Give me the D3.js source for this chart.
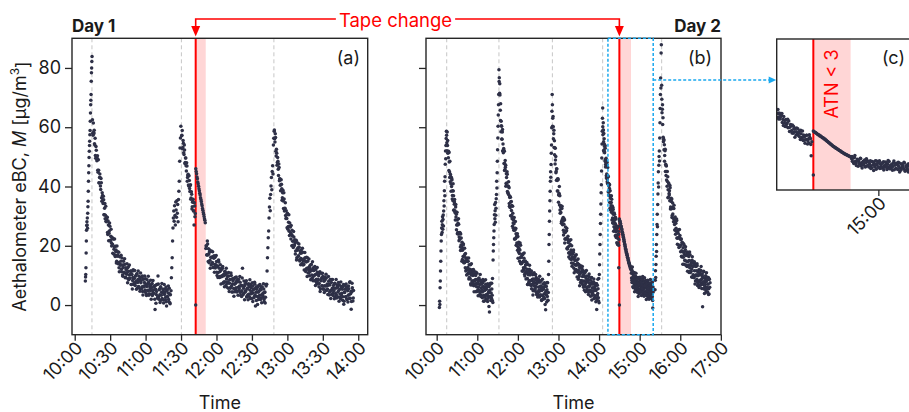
<!DOCTYPE html>
<html>
<head>
<meta charset="utf-8">
<script src="https://cdn.jsdelivr.net/npm/d3@7"></script>
<style>
html,body{margin:0;padding:0;background:#fff;}
svg{display:block;}
</style>
</head>
<body>
<svg id="chart" width="909" height="412"></svg>
<script>
// ---------------- data ----------------
const yTicks = [0, 20, 40, 60, 80];
const day1TickLabels = ["10:00","10:30","11:00","11:30","12:00","12:30","13:00","13:30","14:00"];
const day2TickLabels = ["10:00","11:00","12:00","13:00","14:00","15:00","16:00","17:00"];
const zoomTickLabels = ["15:00"];
const day1Range = ["09:57:42", "14:08:00"];
const day2Range = ["09:44:12", "17:00:12"];
const zoomWindow = ["14:13:06", "15:20:00"];
const day1Peaks = ["10:14:36", "11:30:18", "12:48:36"];
const day2Peaks = ["10:14:48", "11:32:00", "12:51:00", "14:05:18", "15:32:30"];
const day1Atn = ["11:42:24", "11:50:54"];
const day2Atn = ["14:30:00", "14:47:12"];
const tapeZeroTimes = ["11:42:24", "14:30:00"];
const tapeZeroValues = [0, 0];

// Day 1 (eBC, µg/m3)
const d1Rise1 = [8.1,9.5,10.3,12.6,17.6,21.6,25.2,26.8,28.1,27.0,29.4,25.9,31.0,33.2,35.0,38.4,41.8,44.6,47.0,49.8,51.9,53.8,55.3,57.5,58.9,62.0,64.8,67.6,69.1,71.0,75.5,78.4,80.0,82.2,83.9];
const d1Decay1 = [62.5,57.3,58.3,59.0,54.0,50.5,53.5,49.5,49.5,45.5,49.0,41.3,43.0,43.0,39.0,41.3,35.0,37.0,34.3,35.5,
30.5,34.3,30.3,28.3,29.0,29.6,23.8,27.0,24.2,27.7,21.7,23.2,21.0,22.9,20.5,22.4,17.2,19.7,16.9,19.8,
18.6,14.8,16.5,18.0,14.4,12.6,16.4,13.8,14.8,12.1,15.9,10.1,12.7,13.5,10.8,13.8,9.4,12.0,10.4,12.4,
8.9,12.9,10.1,9.0,10.3,11.5,6.9,10.3,8.3,11.9,6.9,9.0,7.4,9.8,8.0,10.5,5.7,8.6,6.3,9.7,
8.9,5.4,7.5,9.4,6.2,4.6,8.7,6.4,7.6,5.1,8.9,3.8,6.3,7.1,4.8,7.7,3.8,6.2,4.9,6.8,
3.7,7.3,4.8,3.9,5.2,6.3,-1.5,5.3,3.6,6.9,2.4,9.8,2.8,5.2,3.5,5.9,1.6,4.3,2.2,5.4,
4.7,1.7,3.6,5.4,2.6,1.1,4.9,2.9,4.1,1.9,5.7,0.8,3.5];
const d1Decay1B = [58.0,61.4,57.9,54.4,56.3,49.5,52.2,48.7,50.4,44.8,45.5,41.2,44.2,40.2,42.7,36.2,37.9,35.4,36.7,30.5,
32.7,29.1,33.3,28.1,29.6,24.5,28.4,21.7,25.0,26.6,21.9,25.6,19.9,22.6,17.5,22.3,18.8,22.3,16.4,18.1,
14.2,19.9,16.9,13.9,17.8,11.2,16.3,13.4,16.8,11.2,13.5,9.7,14.8,11.1,15.6,9.2,12.6,10.9,13.9,7.5,
11.3,8.5,13.5,9.1,11.4,6.9,11.4,5.4,9.3,11.6,7.5,11.7,6.6,9.9,5.3,10.6,7.6,11.5,6.1,8.2,
4.7,10.8,8.2,5.6,9.8,3.4,8.8,6.2,9.8,4.4,6.9,3.2,8.5,5.0,9.7,3.3,6.9,5.3,8.4,2.0,
5.9,3.2,8.3,4.0,6.4,2.0,6.6,0.6,4.6,6.9,2.8,7.1,2.0,5.3,0.9,6.2,3.3,7.3,1.9,4.1,
0.7,6.9,4.3,1.8,6.1,-0.3,5.2,2.7,6.4,1.1,3.8,0.4];
const d1Rise2 = [4.8,9.2,12.6,16.0,21.6,26.0,29.4,31.7,28.3,33.5,30.2,27.0,34.8,32.1,29.6,35.2,31.0,33.9,28.1,35.6,38.4,41.8,48.5,53.0,56.4,60.3];
const d1Decay2a = [57.1,58.9,53.2,54.6,50.8,52.3,48.1,49.6,45.2,46.9,43.0,44.1,40.2,42.0,38.3,40.6,36.1,37.4,33.2,35.0,31.7,27.0,33.4,30.9];
const d1Decay2aB = [57.3,52.7,55.5,51.4,54.0,47.8,49.6,47.0,48.0,41.8,43.7,40.5,43.6,39.3,40.3,35.7,38.2,32.4,34.7,35.7,31.8,34.5,29.8];
const d1Band = [46.0,45.1,44.3,43.2,42.6,41.5,40.9,40.1,39.2,38.6,37.7,37.1,36.2,35.6,34.9,34.1,33.5,32.6,32.0,31.2,30.6,29.9,29.1,28.6,27.8];
const d1Decay2b = [19.1,19.9,17.0,20.6,14.7,17.2,17.9,15.1,18.1,13.5,16.1,14.4,16.3,12.7,16.6,13.7,12.5,13.6,14.7,10.0,
13.2,11.0,14.5,9.3,11.3,9.5,11.8,9.9,12.3,7.4,10.3,7.9,11.2,10.3,6.8,8.8,10.7,7.4,5.7,9.8,
7.4,8.6,6.0,10.0,4.4,7.1,8.1,5.6,8.8,4.5,7.3,5.8,8.0,4.6,8.7,6.0,5.0,6.4,7.7,3.2,
6.7,4.8,12.4,3.5,5.7,4.1,6.6,4.8,7.4,2.7,5.7,3.5,6.9,6.2,2.8,5.0,6.9,3.8,2.2,6.4,
4.1,5.4,2.9,7.0,-0.3,4.3,5.3,2.9,6.1,1.9,4.7,3.3,5.4,2.1,6.2,3.6,2.6,4.1,5.4,1.0,
4.4,2.6,6.4];
const d1Decay2bB = [20.0,16.9,21.6,16.9,19.0,14.3,18.6,12.4,16.1,18.2,13.9,18.0,12.7,15.8,11.1,16.1,12.9,16.7,11.1,13.0,
9.3,15.2,12.4,9.6,13.6,7.1,12.3,9.6,13.0,7.5,9.9,6.2,11.4,7.8,12.4,6.1,9.6,7.9,11.0,4.6,
8.5,5.7,10.8,6.4,8.8,4.4,9.0,3.0,7.0,9.3,5.2,9.5,4.4,7.8,3.3,8.6,5.6,9.6,4.2,6.4,
2.9,9.1,6.5,3.9,8.1,1.8,7.2,4.6,8.2,2.9,5.4,1.8,7.2,3.7,8.5,2.2,5.9,4.3,7.5,1.2,
5.2,2.5,7.7,3.4,5.9,1.5,6.2,0.2,4.3,6.6,2.6,6.9,1.9,5.2,0.8,6.1,3.2,7.2,1.9,4.2,
0.7,6.9];
const d1Rise3 = [7.0,11.5,16.0,19.3,22.7,25.0,29.4,33.1,36.0,31.8,37.3,40.2,43.0,38.9,45.1,47.0,44.2,54.0,56.3,58.6];
const d1Decay3 = [59.1,55.0,56.5,50.3,51.2,48.1,48.5,43.7,46.4,42.5,40.4,40.6,40.8,35.4,37.9,35.1,37.9,31.7,32.7,30.2,
31.8,29.2,31.0,25.6,27.9,24.9,27.7,26.3,22.3,23.8,25.2,21.5,19.4,23.0,20.3,21.1,18.2,21.9,16.0,18.5,
19.3,16.5,19.5,14.9,17.5,15.7,17.6,14.0,17.8,14.9,13.7,14.9,16.0,11.3,14.5,12.4,16.0,10.8,12.7,11.0,
13.3,11.4,13.7,8.9,11.8,9.3,12.6,11.7,8.2,10.2,12.0,8.7,7.1,11.1,8.7,9.9,7.3,11.2,5.5,8.2,
9.1,6.5,9.6,5.3,8.0,6.5,8.5,5.1,9.1,6.4,5.3,6.7,8.0,3.4,6.8,4.9,8.6,3.6,5.7,4.1,
6.6,4.8,7.3,2.6,5.7,3.4,6.8,6.1,2.7,4.9,6.8,3.7,2.1,6.3,4.0,5.3,2.8,6.9,1.3,4.2,
5.3,2.8,6.1,1.9,4.8,3.3,5.5,2.2,7.9,3.8,-1.4,4.4,5.8,1.4,4.9];
const d1Decay3B = [56.1,57.8,51.9,52.6,47.2,49.8,45.8,47.6,41.9,42.6,38.6,42.3,39.2,36.2,38.7,32.6,35.8,32.6,34.5,29.2,
30.4,26.1,30.7,26.5,30.5,23.5,26.5,24.3,26.8,20.0,23.4,20.2,24.8,20.0,22.0,17.2,21.5,15.2,18.9,20.9,
16.6,20.6,15.3,18.3,13.6,18.6,15.4,19.2,13.5,15.5,11.8,17.7,14.9,12.1,16.1,9.6,14.8,12.0,15.5,9.9,
12.3,8.5,13.7,10.1,14.6,8.2,11.7,10.0,13.0,6.6,10.4,7.6,12.7,8.3,10.6,6.2,10.7,4.6,8.5,10.7,
6.5,10.7,5.5,8.8,4.2,9.5,6.4,10.4,4.9,7.1,3.6,9.6,7.0,4.4,8.6,2.2,7.6,5.0,8.6,3.2,
5.7,2.1,7.4,3.9,8.6,2.4,6.0,4.4,7.6,1.3,5.3,2.6,7.8,3.5,6.0,1.6,6.3,0.3,4.4,6.8,
2.8,7.1,2.1,5.5,1.0,6.4,3.5,7.6,2.3,4.6,1.2,7.4,4.9,2.4];
const day1Segments = [d1Rise1, d1Decay1, d1Decay1B, d1Rise2, d1Decay2a, d1Decay2aB, d1Band, d1Decay2b, d1Decay2bB, d1Rise3, d1Decay3, d1Decay3B];
const day1Starts = ["10:09:00","10:15:00","10:15:15","11:21:30","11:30:30","11:30:45","11:42:30","11:51:00","11:51:15","12:42:30","12:49:00","12:49:15"];
const day1Steps = [10, 30, 30, 20, 30, 30, 20, 30, 30, 20, 30, 30];

// Day 2
const d2Rise1 = [-0.8,1.3,0.2,5.8,8.1,11.5,14.8,18.2,21.6,23.8,26.0,28.3,24.5,27.1,29.8,25.6,28.9,30.4,26.7,31.7,35.2,33.4,38.6,41.8,36.9,43.3,47.5,52.0,49.4,53.8,56.2,58.6,57.3];
const d2Decay1 = [54.8,58.4,53.8,51.2,51.5,51.9,45.4,48.3,44.9,48.5,41.6,43.4,40.9,43.1,40.0,42.2,35.8,38.6,35.2,38.5,
36.9,32.1,34.0,35.6,31.2,28.7,33.1,29.7,30.6,27.0,31.3,24.1,27.0,27.6,24.0,27.3,21.7,24.4,22.2,24.2,
19.6,24.0,20.3,18.7,20.0,21.2,15.4,19.1,16.4,20.6,14.3,16.5,14.3,17.1,14.6,17.4,11.5,14.9,11.9,15.8,
14.7,10.4,12.7,14.8,10.9,8.8,13.6,10.7,12.1,8.9,13.6,6.8,10.1,11.2,8.1,11.9,6.8,10.0,8.2,10.6,
6.5,11.4,8.1,6.8,8.5,10.0,4.5,8.6,6.2,10.7,4.6,7.1,5.2,8.2,6.0,9.0,3.4,6.9,4.2,8.3,
7.4,3.3,5.8,8.1,4.4,2.5,7.5,4.7,6.3,3.3,8.1,1.4,4.9,6.1,3.1,7.0,2.0,5.3,3.6,6.2,
2.1,7.2,4.0,2.9,4.6,6.3,-2.3,5.1,2.9,7.4,1.5,4.1,2.3,5.4,3.3,9.0,0.9];
const d2Decay1B = [52.1,55.5,49.7,51.5,43.0,44.1,38.4,42.6,37.0,40.9,32.0,34.8,31.7,33.9,25.4,28.7,24.5,29.1,23.0,24.5,
18.4,22.6,14.8,18.5,20.3,14.9,19.2,12.6,15.8,10.1,15.8,11.8,15.9,9.3,11.5,7.2,13.9,10.6,7.5,12.0,
4.5,10.4,7.2,11.1,4.7,7.5,3.1,9.1,4.9,10.3,2.9,7.0,5.1,8.6,1.3,5.8,2.6,8.5,3.5,6.2,
1.2,6.5,-0.5,4.2,7.0,2.3,7.4,1.5];
const d2Rise2 = [15.2,18.2,20.4,22.7,25.0,27.2,30.5,33.9,29.1,31.8,27.9,34.6,30.3,32.7,35.9,37.3,41.8,39.5,44.6,48.5,52.4,56.4,60.3,64.1,67.6,71.0];
const d2Decay2 = [79.4,76.7,71.5,70.9,65.7,67.9,58.5,60.5,60.3,55.9,58.4,52.1,54.3,51.4,52.8,47.8,51.9,47.8,45.7,46.5,
47.2,41.0,44.3,41.2,45.0,38.3,40.2,37.6,40.1,37.2,39.6,33.3,36.3,32.9,36.4,34.8,30.1,31.9,33.6,29.1,
26.6,31.0,27.7,28.7,25.2,29.5,22.3,25.2,25.9,22.4,25.8,20.2,23.1,20.9,23.0,18.5,23.1,19.5,17.9,19.2,
20.5,14.8,18.6,16.0,20.2,13.9,16.2,14.0,16.9,14.4,17.2,11.4,14.8,11.9,15.8,14.7,10.4,12.7,14.9,10.9,
8.8,13.7,10.8,12.1,9.0,13.7,6.9,10.2,11.3,8.2,12.1,6.9,10.1,8.3,10.8,6.6,11.5,8.3,7.0,8.7,
10.2,4.8,8.8,6.5,10.9,4.9,7.4,5.4,8.5,6.3,9.3,3.6,7.2,4.5,8.6,7.7,3.6,6.1,8.4,4.6,
2.7,7.7,4.9,6.4,3.4,8.2,1.5,4.9,6.1,3.1,7.1,2.0,5.3,3.7,6.2,2.2,7.2,4.1,-1.6,4.7,
6.3,1.0,5.2,2.9,7.5,1.6,4.2];
const d2Decay2B = [75.4,74.7,62.3,62.0,56.0,59.2,51.9,52.3,45.4,48.8,40.1,43.0,44.1,38.0,41.6,34.3,36.7,30.1,34.9,30.0,
33.3,25.9,27.4,22.3,28.2,24.1,20.2,24.1,15.8,21.2,17.4,20.9,14.0,16.3,11.5,17.1,12.6,17.6,9.8,13.5,
11.3,14.4,6.9,11.1,7.7,13.4,8.2,10.7,5.5,10.5,3.4,7.8,10.3,5.5,10.3,4.3,8.0,2.7,8.8,5.2,
9.7,3.4,5.9,1.8,8.7,5.6,2.7,7.5,0.2,6.4,3.4,7.6,1.5];
const d2Rise3 = [10.3,14.8,20.4,23.8,28.3,31.7,35.2,38.4,41.8,45.0,43.1,47.4,51.2,54.0,59.8,65.4,71.0];
const d2Decay3 = [67.6,63.0,63.6,56.1,57.8,53.2,55.4,53.1,47.6,48.9,50.1,45.1,42.1,45.9,42.0,42.5,38.5,42.3,34.7,37.2,
37.6,33.8,36.9,31.0,33.6,31.2,33.0,28.2,32.6,28.8,27.1,28.3,29.5,23.6,27.3,24.6,28.7,22.3,24.5,22.2,
25.0,22.4,25.1,19.1,22.4,19.4,23.2,22.0,17.6,19.8,21.8,17.8,15.6,20.4,17.3,18.6,15.4,20.0,13.1,16.3,
17.3,14.1,17.8,12.5,15.7,13.8,16.1,11.9,16.7,13.4,12.0,13.6,15.1,9.5,13.5,11.1,15.5,9.3,11.7,9.7,
12.7,10.4,13.3,7.6,11.1,8.3,12.3,11.3,7.2,9.6,11.8,8.0,6.0,11.0,8.1,9.6,6.5,11.3,4.5,7.9,
9.0,6.0,9.8,4.7,8.0,6.2,8.7,4.6,9.6,6.3,5.1,6.8,8.4,3.0,7.1,4.8,9.3,3.3,5.8,3.9,
7.0,4.8,7.8,2.2,5.9,3.2,7.3,6.4,2.4,4.9,7.2,-1.5,1.6,6.7,3.9,5.5,2.5,9.0,0.8];
const d2Decay3B = [60.3,60.2,59.0,50.7,52.9,44.6,46.0,38.5,42.6,37.1,40.0,32.1,33.1,27.6,33.3,29.1,25.2,29.1,20.9,26.3,
22.5,25.9,18.9,21.1,16.2,21.6,17.0,22.0,14.2,17.9,15.6,18.6,10.9,15.0,11.5,17.0,11.7,14.1,8.7,13.7,
6.5,10.8,13.2,8.2,13.0,6.8,10.4,5.0,11.0,7.3,11.7,5.4,7.8,3.6,10.5,7.4,4.4,9.1,1.7,7.8,
4.7,8.8,2.5,5.4,1.1,7.2,3.2,8.7,1.4];
const d2Rise4 = [10.3,13.6,17.2,20.4,23.8,27.5,30.6,34.1,37.9,40.6,45.2,49.6,54.3,58.6,63.0];
const d2Decay4 = [66.5,57.5,59.0,59.1,55.1,57.9,51.9,54.3,51.7,53.5,48.6,52.9,49.1,47.4,48.5,49.5,43.6,47.1,44.2,48.2,
41.6,43.5,41.1,43.6,40.8,43.3,37.1,40.2,37.1,40.7,39.3,34.7,36.7,38.6,34.4,32.1,36.7,33.5,34.6,31.3,
35.7,28.7,31.8,32.7,29.4,33.0,27.6,30.6,28.6,30.8,26.4,31.1,27.7,26.2,27.7,29.0,23.4,27.3,24.7,29.0,
22.8,25.0,22.9,25.8,23.4,26.2,20.4,23.8,20.9,24.9,23.9,12.6,22.0];
const d2Decay4B = [60.2,61.5,52.2,56.1,51.4,53.8,46.6,48.1,42.9,47.5,42.5,46.4,38.2,41.0,38.3,40.6,32.7,36.0,32.1,36.9,
31.4,33.4,27.8,32.2,24.9,28.6,30.6,25.5,29.6,23.5,26.5,21.0,26.3,22.5,26.6,20.2];
const d2Band = [29.0,28.6,28.3,28.1,27.6,27.5,26.8,26.6,26.4,25.8,25.7,25.5,24.8,24.6,24.4,23.8,23.7,23.1,22.9,22.3,
22.1,21.5,21.3,20.6,20.5,19.9,19.7,19.1,18.8,18.6,18.0,17.9,17.5,17.3,16.8,16.7,16.1,16.0,15.7,15.2,
15.0,14.6,14.4,14.0,13.9,13.5,13.4,13.0,12.9,12.5,12.4,12.1,12.0];
const d2Tail4 = [10.7,9.1,11.1,7.6,11.6,8.8,7.7,9.1,10.3,5.8,9.2,7.3,11.0,6.0,8.1,6.5,9.1,7.3,9.8,5.2,
8.2,5.9,9.3,8.5,5.2,7.3,9.3,6.1,4.6,8.7,6.5,7.7,5.3,9.3,3.8,6.6,7.7,5.2,8.5,4.3,
7.1,5.7,7.9,4.5,8.7,6.1,5.1,6.6,8.0,3.5,7.0,5.2,8.9,4.0,6.2,4.6,7.2,5.5,8.0,3.4,
6.5,4.2,7.7,7.0,3.6,5.8,7.8,4.6,3.1,7.3,5.0,6.3,3.9,7.9,2.4,5.3,6.3,3.9,7.2,2.9,
5.8,4.4,6.5,3.2,7.4,4.7,3.8,5.3,6.6,2.2,5.7,3.9,7.7,2.8,5.0,-1.0,6.1,4.4];
const d2Tail4B = [12.2,8.4,12.8,6.2,9.6,7.9,10.9,4.5,8.4,5.6,10.7,6.3,8.7,4.3,8.9,2.9,6.9,9.2,5.1,9.4,
4.4,7.7,3.2,8.6,5.6,9.6,4.3,6.5,3.0,9.2,6.6,4.0,8.3,1.9,7.3,4.8,8.4,3.0,5.6,2.0,
7.4,3.9,8.6,2.4,6.0,4.5,7.7,1.5,5.5];
const d2Rise5 = [5.2,8.4,11.6,9.3,13.7,16.5,20.4,18.1,23.8,27.2,30.6,26.4,33.9,37.5,41.2,45.0,39.8,47.2,50.1,52.0,48.6,56.4,61.5,66.3,71.0,76.6,73.2,85.0,87.8];
const d2Decay5 = [74.2,64.9,66.1,60.9,63.2,55.1,55.9,52.4,54.1,50.5,52.1,45.1,47.5,43.7,46.9,45.1,40.1,41.7,43.3,38.9,
36.4,40.9,37.6,38.6,35.2,39.6,32.4,35.3,36.0,32.5,35.8,30.2,32.9,30.7,32.7,28.1,32.6,28.9,27.2,28.5,
29.7,23.9,27.6,24.9,29.0,22.6,24.7,22.5,25.2,22.7,25.3,19.4,22.7,19.7,23.5,22.4,18.0,20.3,22.3,18.3,
16.2,21.0,18.0,19.3,16.1,20.7,13.8,17.1,18.1,15.0,18.7,13.5,16.7,14.8,17.2,13.0,17.9,14.6,13.3,14.9,
16.4,11.0,15.0,12.6,17.0,11.0,13.4,11.4,14.4,12.2,15.1,9.4,13.0,10.2,14.3,13.3,9.2,11.6,13.9,10.0,
8.1,13.0,10.2,11.6,8.6,13.3,6.6,9.9,11.1,8.1,11.9,6.8,10.1,8.4,10.8,6.7,11.7,8.5,7.2,8.9,
10.5,-0.6,9.2,6.9,11.4,5.4,7.9,6.0,9.1,6.9,9.9,4.3,7.9,5.3,9.4,8.5,4.4,7.0,9.3,5.5,
3.7,8.7,6.0,7.5];
const d2Decay5B = [69.4,67.6,56.6,55.5,48.5,52.6,47.1,42.2,45.1,36.2,41.2,37.1,40.3,33.1,34.9,29.5,34.4,29.3,33.7,25.3,
28.6,25.9,28.5,20.5,24.2,20.3,25.5,20.0,22.1,16.5,21.2,13.8,17.9,20.2,15.1,19.7,13.4,16.9,11.4,17.3,
13.5,17.9,11.4,13.8,9.5,16.3,13.1,10.0,14.6,7.1,13.1,9.9,13.9,7.5,10.2,5.9,11.8,7.7,13.0,5.6,
9.7,7.8,11.2,3.9,8.3,5.1,10.9,6.0,8.6,3.6,8.8];
const day2Segments = [d2Rise1, d2Decay1, d2Decay1B, d2Rise2, d2Decay2, d2Decay2B, d2Rise3, d2Decay3, d2Decay3B, d2Rise4, d2Decay4, d2Decay4B, d2Band, d2Tail4, d2Tail4B, d2Rise5, d2Decay5, d2Decay5B];
const day2Starts = ["10:04:00","10:15:00","10:15:15","11:23:20","11:32:00","11:32:15","12:45:20","12:51:00","12:51:15","14:00:20","14:05:20","14:05:30","14:30:00","14:47:40","14:47:50","15:22:40","15:32:30","15:32:45"];
const day2Steps = [20, 30, 60, 20, 30, 60, 20, 30, 60, 20, 20, 40, 20, 20, 40, 20, 30, 60];

// ---------------- helpers ----------------
const parseT = s => { const p = s.split(":").map(Number); return new Date(2024, 0, 1, p[0], p[1], p[2] || 0); };
function buildPoints(list, starts, steps) {
  const out = [];
  list.forEach((vals, k) => {
    const t0 = +parseT(starts[k]);
    vals.forEach((v, i) => out.push({ t: new Date(t0 + i * steps[k] * 1000), v }));
  });
  return out;
}
const day1Points = buildPoints(day1Segments, day1Starts, day1Steps);
const day2Points = buildPoints(day2Segments, day2Starts, day2Steps);
day1Points.push({ t: parseT(tapeZeroTimes[0]), v: tapeZeroValues[0] });
day2Points.push({ t: parseT(tapeZeroTimes[1]), v: tapeZeroValues[1] });

// ---------------- layout / style ----------------
const FONT = "Inter, 'DejaVu Sans', sans-serif";
const DOT = "#2e3047";
const RED = "#ff0000";
const BLUE = "#1aa8ee";
const FRAME = "#262626";
const svg = d3.select("#chart");
svg.append("rect").attr("width", 909).attr("height", 412).attr("fill", "#fff");
const defs = svg.append("defs");

const yAB = d3.scaleLinear().domain([-10, 90]).range([334.7, 38.3]);
const yC = d3.scaleLinear().domain([-10, 90]).range([190, 39]);
const xA = d3.scaleTime().domain(day1Range.map(parseT)).range([72, 367.7]);
const xB = d3.scaleTime().domain(day2Range.map(parseT)).range([426, 721]);
const xC = d3.scaleTime().domain(zoomWindow.map(parseT)).range([776.7, 921.7]);

function drawPanel(cfg) {
  const { x, y, points, peaks, atn, red, ticks, yMode, id } = cfg;
  const [x0, x1] = x.range();
  const top = y.range()[1], bot = y.range()[0];
  defs.append("clipPath").attr("id", id).append("rect")
    .attr("x", x0).attr("y", top).attr("width", x1 - x0).attr("height", bot - top);
  const g = svg.append("g");
  const inner = g.append("g").attr("clip-path", `url(#${id})`);
  inner.append("rect")
    .attr("x", x(parseT(atn[0]))).attr("y", top)
    .attr("width", x(parseT(atn[1])) - x(parseT(atn[0]))).attr("height", bot - top)
    .attr("fill", RED).attr("fill-opacity", 0.16);
  inner.selectAll("line.peak").data(peaks).join("line").attr("class", "peak")
    .attr("x1", d => x(parseT(d))).attr("x2", d => x(parseT(d)))
    .attr("y1", top).attr("y2", bot)
    .attr("stroke", "#c6c6c6").attr("stroke-width", 1).attr("stroke-dasharray", "4,3");
  inner.append("line")
    .attr("x1", x(parseT(red))).attr("x2", x(parseT(red)))
    .attr("y1", top).attr("y2", bot).attr("stroke", RED).attr("stroke-width", 2);
  const [d0, d1] = x.domain();
  inner.selectAll("circle").data(points.filter(p => p.t >= d0 && p.t <= d1)).join("circle")
    .attr("cx", d => x(d.t)).attr("cy", d => y(d.v)).attr("r", 1.75).attr("fill", DOT);
  g.append("rect").attr("x", x0).attr("y", top).attr("width", x1 - x0).attr("height", bot - top)
    .attr("fill", "none").attr("stroke", FRAME).attr("stroke-width", 1.4);

  const ax = g.append("g").attr("transform", `translate(0,${bot})`)
    .call(d3.axisBottom(x).tickValues(ticks.map(parseT)).tickFormat(d3.timeFormat("%H:%M")).tickSize(6).tickSizeOuter(0));
  ax.select(".domain").remove();
  ax.selectAll("line").attr("stroke", FRAME).attr("stroke-width", 1.3);
  ax.selectAll("text").attr("x", 0).attr("y", 0).attr("dy", "0.35em")
    .attr("text-anchor", "end").attr("transform", "translate(4,10) rotate(-45)")
    .attr("font-size", 18).attr("font-family", FONT).attr("fill", "#1a1a1a");

  if (yMode !== "none") {
    const ay = g.append("g").attr("transform", `translate(${x0},0)`)
      .call(d3.axisLeft(y).tickValues(yTicks).tickSize(7).tickPadding(4)
        .tickFormat(yMode === "labels" ? d3.format("d") : () => ""));
    ay.select(".domain").remove();
    ay.selectAll("line").attr("stroke", FRAME).attr("stroke-width", 1.3);
    ay.selectAll("text").attr("font-size", 18).attr("font-family", FONT).attr("fill", "#1a1a1a");
  }
  return g;
}

drawPanel({ x: xA, y: yAB, points: day1Points, peaks: day1Peaks, atn: day1Atn, red: tapeZeroTimes[0], ticks: day1TickLabels, yMode: "labels", id: "clipA" });
drawPanel({ x: xB, y: yAB, points: day2Points, peaks: day2Peaks, atn: day2Atn, red: tapeZeroTimes[1], ticks: day2TickLabels, yMode: "marks", id: "clipB" });
drawPanel({ x: xC, y: yC, points: day2Points, peaks: [], atn: day2Atn, red: tapeZeroTimes[1], ticks: zoomTickLabels, yMode: "none", id: "clipC" });

// zoom window box + arrow
const bx0 = xB(parseT(zoomWindow[0])), bx1 = xB(parseT(zoomWindow[1]));
svg.append("rect").attr("x", bx0).attr("y", yAB.range()[1]).attr("width", bx1 - bx0)
  .attr("height", yAB.range()[0] - yAB.range()[1])
  .attr("fill", "none").attr("stroke", BLUE).attr("stroke-width", 1.5).attr("stroke-dasharray", "3,2");
const arrowY = 80;
const cx0 = xC.range()[0];
svg.append("line").attr("x1", bx1).attr("x2", cx0 - 7).attr("y1", arrowY).attr("y2", arrowY)
  .attr("stroke", BLUE).attr("stroke-width", 1.5).attr("stroke-dasharray", "3,2");
svg.append("path").attr("d", `M${cx0 - 0.5},${arrowY} L${cx0 - 8},${arrowY - 3.5} L${cx0 - 8},${arrowY + 3.5} Z`).attr("fill", BLUE);

// panel letters & titles
const txt = (x, y, s, o = {}) => svg.append("text").attr("x", x).attr("y", y).text(s)
  .attr("font-family", FONT).attr("font-size", o.size || 18).attr("font-weight", o.weight || 400)
  .attr("text-anchor", o.anchor || "start").attr("fill", o.fill || "#1a1a1a");
txt(360, 64, "(a)", { anchor: "end" });
txt(712, 64, "(b)", { anchor: "end" });
txt(905, 64, "(c)", { anchor: "end" });
txt(72, 31.5, "Day 1", { weight: 700, size: 17 });
txt(721, 31.5, "Day 2", { weight: 700, size: 17, anchor: "end" });
txt((xA.range()[0] + xA.range()[1]) / 2, 409, "Time", { anchor: "middle" });
txt((xB.range()[0] + xB.range()[1]) / 2, 409, "Time", { anchor: "middle" });

// ATN < 3 label
const atnMid = (xC(parseT(day2Atn[0])) + xC(parseT(day2Atn[1]))) / 2;
svg.append("text").attr("transform", `translate(${atnMid + 6},84) rotate(-90)`)
  .attr("text-anchor", "middle").attr("font-family", FONT).attr("font-size", 18)
  .attr("fill", RED).text("ATN < 3");

// y-axis label
const yl = svg.append("text").attr("transform", "translate(26,186.5) rotate(-90)")
  .attr("text-anchor", "middle").attr("font-family", FONT).attr("font-size", 18).attr("fill", "#1a1a1a");
yl.append("tspan").text("Aethalometer eBC, ");
yl.append("tspan").attr("font-style", "italic").text("M");
yl.append("tspan").text(" [μg/m");
yl.append("tspan").attr("font-size", 12).attr("dy", "-0.55em").text("3");
yl.append("tspan").attr("dy", "0.55em").text("]");

// Tape change annotation
const tcX1 = xA(parseT(tapeZeroTimes[0])), tcX2 = xB(parseT(tapeZeroTimes[1]));
const tcLineY = 19;
const tcText = txt(395.5, 26.5, "Tape change", { anchor: "middle", fill: RED, size: 18.5 });
const tw = tcText.node().getComputedTextLength();
const tl = 395.5 - tw / 2 - 3, tr = 395.5 + tw / 2 + 3;
svg.append("path").attr("d", `M${tcX1},27 L${tcX1},${tcLineY} L${tl},${tcLineY}`)
  .attr("fill", "none").attr("stroke", RED).attr("stroke-width", 1.6);
svg.append("path").attr("d", `M${tr},${tcLineY} L${tcX2},${tcLineY} L${tcX2},27`)
  .attr("fill", "none").attr("stroke", RED).attr("stroke-width", 1.6);
[tcX1, tcX2].forEach(xx => svg.append("path")
  .attr("d", `M${xx - 4.5},26 L${xx + 4.5},26 L${xx},36.5 Z`).attr("fill", RED));
</script>
</body>
</html>
